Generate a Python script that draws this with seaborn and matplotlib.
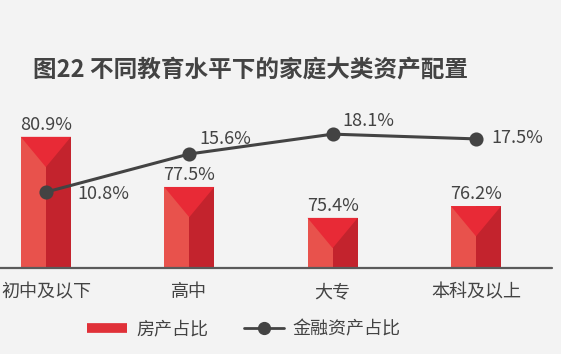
import matplotlib
matplotlib.use("Agg")
import matplotlib.pyplot as plt
import seaborn as sns
import pandas as pd
from matplotlib.patches import Rectangle, Polygon
from matplotlib.lines import Line2D

# 数据
categories = ["初中及以下", "高中", "大专", "本科及以上"]
house_share = [80.9, 77.5, 75.4, 76.2]
fin_share = [10.8, 15.6, 18.1, 17.5]
series_names = ["房产占比", "金融资产占比"]
title = "图22 不同教育水平下的家庭大类资产配置"

sns.set_style("white")
plt.rcParams["font.family"] = ["Noto Sans CJK SC", "DejaVu Sans"]

BG = "#f3f3f3"
TXT = "#434343"
RED_L = "#e8524c"
RED_D = "#c3232d"
RED_V = "#e82a36"

df = pd.DataFrame({"cat": categories, "house": house_share, "fin": fin_share})

fig = plt.figure(figsize=(5.61, 3.54), dpi=100, facecolor=BG)
ax = fig.add_axes([0, 86 / 354, 552 / 561, 168 / 354])
ax.set_facecolor(BG)

sns.barplot(data=df, x="cat", y="house", ax=ax, color=RED_L, width=0.35,
            saturation=1, edgecolor="none")
ax.set_ylim(72.0, 83.4)

ax2 = ax.twinx()
sns.pointplot(data=df, x="cat", y="fin", ax=ax2, color=TXT, markers="o",
              linewidth=2.2, markersize=8.5)
ax2.set_ylim(1.24, 22.4)
ax.set_xlim(-0.32, 3.53)

# 柱子立体效果
yr = 83.4 - 72.0
for p in list(ax.patches):
    x0, w, top = p.get_x(), p.get_width(), p.get_height()
    ax.add_patch(Rectangle((x0 + w / 2, 0), w / 2, top, color=RED_D, lw=0, zorder=2.1))
    d = 0.18 * yr
    ax.add_patch(Polygon([(x0, top), (x0 + w, top), (x0 + w / 2, top - d)],
                         closed=True, color=RED_V, lw=0, zorder=2.2))
    ax.text(x0 + w / 2, top + 0.2, f"{top:.1f}%", ha="center", va="bottom",
            fontsize=13, color=TXT)

# 折线标签
offsets = [(0.22, -0.3, "left", "center"), (0.07, 0.8, "left", "bottom"),
           (0.07, 0.5, "left", "bottom"), (0.11, 0.1, "left", "center")]
for i, v in enumerate(fin_share):
    dx, dy, ha, va = offsets[i]
    ax2.text(i + dx, v + dy, f"{v:.1f}%", ha=ha, va=va, fontsize=13, color=TXT)

for a in (ax, ax2):
    for s in ["top", "right", "left", "bottom"]:
        a.spines[s].set_visible(False)
    a.set_yticks([])
    a.set_ylabel("")
ax.set_xlabel("")
ax.axhline(72.0, color="#5a5a5a", lw=1.6, zorder=3, clip_on=False)
ax.tick_params(axis="x", length=0, pad=11, labelsize=13, colors=TXT)

fig.text(33 / 561, 1 - 70 / 354, title, ha="left", va="center",
         fontsize=17, fontweight="bold", color=TXT)

handles = [Line2D([0], [0], color="#e03038", lw=7, solid_capstyle="butt"),
           Line2D([0], [0], color=TXT, lw=2, marker="o", markersize=8.5)]
fig.legend(handles, series_names, loc="center", bbox_to_anchor=(0.435, 0.07),
           ncol=2, frameon=False, fontsize=13, handlelength=2.2,
           columnspacing=2.0, handletextpad=0.5, labelcolor=TXT)

fig.savefig("out.png", dpi=100, facecolor=BG)
